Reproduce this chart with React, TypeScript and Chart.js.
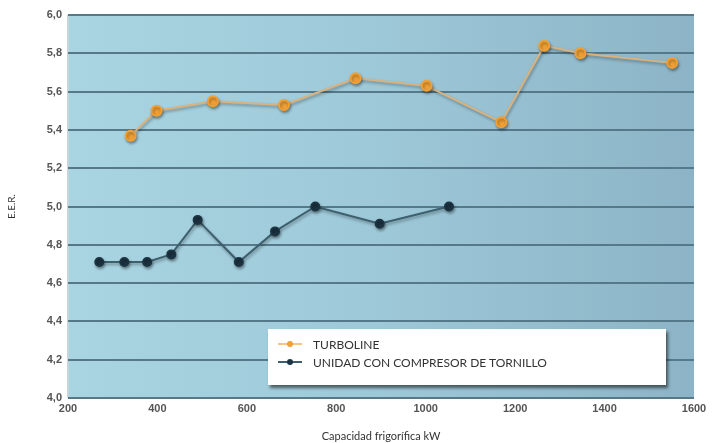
import React, { useEffect, useRef } from "react";
import { Chart, registerables } from "chart.js";
Chart.register(...registerables);

const turbolineX = [340, 398, 524, 683, 843, 1002, 1169, 1265, 1346, 1551];
const turbolineY = [5.37, 5.5, 5.55, 5.53, 5.67, 5.63, 5.44, 5.84, 5.8, 5.75];
const tornilloX = [270, 326, 377, 431, 490, 582, 663, 753, 897, 1052];
const tornilloY = [4.71, 4.71, 4.71, 4.75, 4.93, 4.71, 4.87, 5.0, 4.91, 5.0];
const seriesNames = ["TURBOLINE", "UNIDAD CON COMPRESOR DE TORNILLO"];
const xTitle = "Capacidad frigorífica kW";
const yTitle = "E.E.R.";

const bgPlugin = {
  id: "bgGrad",
  beforeDraw(chart: any) {
    const { ctx, chartArea: a } = chart;
    const g = ctx.createLinearGradient(a.left, 0, a.right, 0);
    g.addColorStop(0, "#a9d5e2");
    g.addColorStop(0.5, "#9dc8d8");
    g.addColorStop(1, "#8cb4c6");
    ctx.save();
    ctx.fillStyle = g;
    ctx.fillRect(a.left, a.top, a.right - a.left, a.bottom - a.top);
    ctx.strokeStyle = "#c8d4d8";
    ctx.lineWidth = 2;
    ctx.beginPath();
    ctx.moveTo(a.left, a.top);
    ctx.lineTo(a.left, a.bottom);
    ctx.stroke();
    ctx.restore();
  },
  beforeDatasetsDraw(chart: any) {
    const ctx = chart.ctx;
    ctx.save();
    ctx.shadowColor = "rgba(0,0,0,0.35)";
    ctx.shadowBlur = 3;
    ctx.shadowOffsetX = 1;
    ctx.shadowOffsetY = 2;
  },
  afterDatasetsDraw(chart: any) {
    chart.ctx.restore();
  },
};

export default function App() {
  const ref = useRef<HTMLCanvasElement>(null);
  useEffect(() => {
    document.body.style.margin = "0";
    const chart = new Chart(ref.current!, {
      type: "scatter",
      data: {
        datasets: [
          {
            label: seriesNames[0],
            data: turbolineX.map((x, i) => ({ x, y: turbolineY[i] })),
            showLine: true,
            borderColor: "#d9b27e",
            borderWidth: 2,
            pointBackgroundColor: "#f0a035",
            pointBorderColor: "#f0a035",
            pointRadius: 5,
          },
          {
            label: seriesNames[1],
            data: tornilloX.map((x, i) => ({ x, y: tornilloY[i] })),
            showLine: true,
            borderColor: "#3d5f6e",
            borderWidth: 2,
            pointBackgroundColor: "#1c3442",
            pointBorderColor: "#1c3442",
            pointRadius: 4,
          },
        ],
      },
      options: {
        animation: false,
        responsive: false,
        layout: { padding: { left: 6, right: 28, top: 15, bottom: 0 } },
        plugins: { legend: { display: false }, tooltip: { enabled: false } },
        scales: {
          x: {
            type: "linear",
            min: 200,
            max: 1600,
            ticks: {
              stepSize: 200,
              color: "#555",
              font: { family: "Liberation Sans", size: 11, weight: "bold" },
              padding: 4,
              callback: (v: any) => String(v),
            },
            grid: { display: false, drawTicks: false },
            border: { display: false },
            title: {
              display: true,
              text: xTitle,
              color: "#333",
              font: { family: "Lato", size: 11 },
              padding: { top: 8, bottom: 0 },
            },
            afterFit(s: any) {
              s.height = 45;
            },
          },
          y: {
            min: 4,
            max: 6,
            ticks: {
              stepSize: 0.2,
              color: "#555",
              font: { family: "Liberation Sans", size: 11, weight: "bold" },
              padding: 6,
              callback: (v: any) => Number(v).toFixed(1).replace(".", ","),
            },
            grid: { color: "#56798a", lineWidth: 2, drawTicks: false },
            border: { display: false },
            title: {
              display: true,
              text: yTitle,
              color: "#333",
              font: { family: "Lato", size: 10 },
              padding: 0,
            },
            afterFit(s: any) {
              s.width = 62;
            },
          },
        },
      },
      plugins: [bgPlugin],
    });
    return () => chart.destroy();
  }, []);

  const legendRow = (color: string, dot: string, text: string) => (
    <div style={{ display: "flex", alignItems: "center", height: 18 }}>
      <div style={{ position: "relative", width: 24, height: 10, marginRight: 11 }}>
        <div style={{ position: "absolute", left: 0, right: 0, top: 4, height: 2, background: color }} />
        <div style={{ position: "absolute", left: 9, top: 2, width: 6, height: 6, borderRadius: 3, background: dot }} />
      </div>
      <span style={{ fontFamily: "Lato", fontSize: 12, color: "#333" }}>{text}</span>
    </div>
  );

  return (
    <div style={{ position: "absolute", left: 0, top: 0, width: 722, height: 443, background: "#fff" }}>
      <canvas ref={ref} width={722} height={443} />
      <div
        style={{
          position: "absolute",
          left: 268,
          top: 329,
          width: 398,
          height: 56,
          background: "#fff",
          boxShadow: "2px 3px 3px rgba(0,0,0,0.55)",
          boxSizing: "border-box",
          padding: "6px 0 0 10px",
        }}
      >
        {legendRow("#f2c48a", "#f0a035", seriesNames[0])}
        {legendRow("#3d5f6e", "#1c3442", seriesNames[1])}
      </div>
    </div>
  );
}
